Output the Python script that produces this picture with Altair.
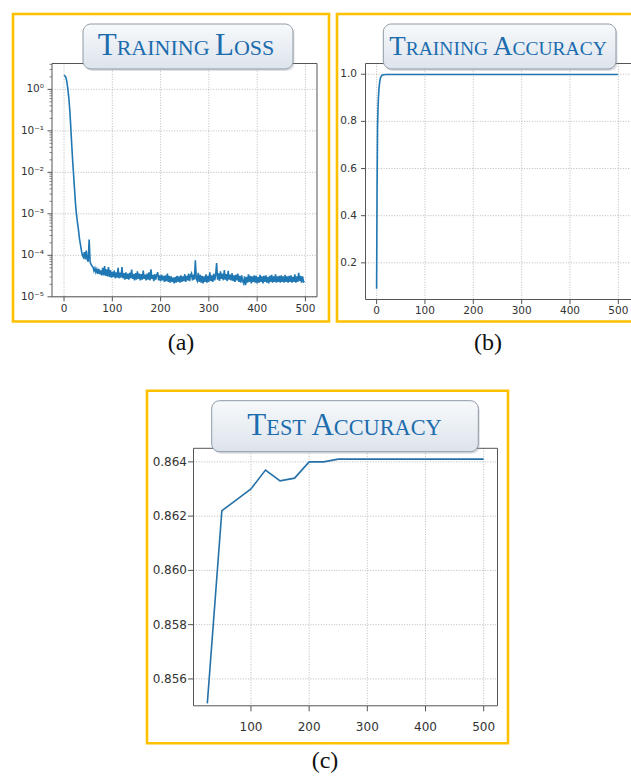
import altair as alt
import pandas as pd

# ---------------- data ----------------
loss_epochs = list(range(0, 500, 2))
# training loss, in units of 1e-5
loss_e5 = [
    220000, 210000, 190000, 150000, 100000, 60000, 30000, 12000, 4500, 1800,
    800, 350, 160, 90, 60, 40, 25, 18, 13, 10,
    9, 12, 8, 13, 8, 7, 24, 7, 6, 5.5,
    5.2, 4.2, 4.9, 3.9, 4.6, 3.6, 4.7, 3.5, 4.3, 3.3,
    5.0, 3.3, 5.5, 3.2, 4.6, 3.1, 5.2, 3.0, 4.4, 2.9,
    4.0, 3.0, 4.3, 2.8, 3.9, 2.9, 5.0, 2.8, 3.8, 2.9,
    5.2, 2.8, 3.7, 2.6, 3.9, 2.7, 3.6, 2.6, 3.8, 2.8,
    4.5, 2.7, 3.5, 2.5, 3.7, 2.6, 4.1, 2.7, 3.6, 2.5,
    3.5, 2.6, 4.3, 2.7, 3.4, 2.5, 3.6, 2.6, 3.9, 2.5,
    4.6, 2.7, 3.4, 2.4, 3.5, 2.6, 3.3, 3.9, 2.5, 3.3,
    2.4, 3.4, 2.5, 3.2, 2.3, 3.3, 2.4, 3.6, 2.3, 3.2,
    2.2, 3.1, 2.3, 2.9, 2.1, 3.0, 2.2, 3.2, 2.3, 3.1,
    2.2, 3.3, 2.3, 3.1, 2.4, 3.5, 2.3, 3.2, 2.5, 3.6,
    2.4, 3.3, 3.7, 2.5, 3.4, 2.6, 7.6, 2.7, 2.4, 3.8,
    2.3, 3.4, 2.2, 3.2, 2.1, 3.1, 2.3, 3.5, 2.2, 3.2,
    2.3, 3.9, 2.4, 3.3, 2.3, 3.6, 2.5, 3.3, 6.5, 2.6,
    3.7, 2.4, 4.1, 2.7, 3.6, 2.5, 4.4, 2.6, 3.5, 2.4,
    4.2, 2.6, 3.4, 2.5, 3.7, 2.4, 3.3, 2.3, 3.4, 2.5,
    3.6, 2.3, 3.2, 2.2, 3.3, 2.4, 2.1, 3.1, 1.9, 3.0,
    2.2, 3.5, 2.3, 3.2, 2.1, 3.1, 2.3, 3.3, 2.2, 3.2,
    2.1, 3.0, 2.2, 3.4, 2.3, 3.1, 2.1, 3.2, 2.3, 3.3,
    2.2, 3.0, 2.1, 3.2, 2.3, 3.4, 2.2, 3.1, 2.3, 3.5,
    2.2, 3.1, 2.3, 3.2, 2.2, 3.3, 2.3, 3.1, 2.2, 3.4,
    2.3, 3.1, 2.2, 3.2, 2.3, 3.3, 2.2, 3.0, 2.3, 3.5,
    2.2, 3.1, 2.3, 3.8, 2.4, 3.2, 2.2, 3.1, 2.3, 2.4,
]

acc_epochs = [0, 1, 2, 3, 4, 5, 6, 7, 8, 10, 12, 15, 20, 30, 50, 100,
              150, 200, 250, 300, 350, 400, 450, 499]
acc_values = [0.09, 0.52, 0.78, 0.86, 0.91, 0.94, 0.96, 0.975, 0.985, 0.993,
              0.997, 0.998, 0.999, 0.999, 0.999, 0.999, 0.999, 0.999, 0.999,
              0.999, 0.999, 0.999, 0.999, 0.999]

test_epochs = [25, 50, 75, 100, 125, 150, 175, 200, 225, 250,
               275, 300, 325, 350, 375, 400, 425, 450, 475, 500]
test_values = [0.8551, 0.8622, 0.8626, 0.8630, 0.8637, 0.8633, 0.8634, 0.8640,
               0.8640, 0.8641, 0.8641, 0.8641, 0.8641, 0.8641, 0.8641, 0.8641,
               0.8641, 0.8641, 0.8641, 0.8641]

x_ticks = [0, 100, 200, 300, 400, 500]
test_x_ticks = [100, 200, 300, 400, 500]
loss_ticks = [1e-5, 1e-4, 1e-3, 1e-2, 1e-1, 1]
loss_tick_labels = ["10⁻⁵", "10⁻⁴", "10⁻³", "10⁻²", "10⁻¹", "10⁰"]
loss_minor = [2e-5, 3e-5, 4e-5, 5e-5, 6e-5, 7e-5, 8e-5, 9e-5,
              2e-4, 3e-4, 4e-4, 5e-4, 6e-4, 7e-4, 8e-4, 9e-4,
              2e-3, 3e-3, 4e-3, 5e-3, 6e-3, 7e-3, 8e-3, 9e-3,
              2e-2, 3e-2, 4e-2, 5e-2, 6e-2, 7e-2, 8e-2, 9e-2,
              0.2, 0.3, 0.4, 0.5, 0.6, 0.7, 0.8, 0.9, 2, 3, 4]
acc_ticks = [0.2, 0.4, 0.6, 0.8, 1.0]
test_ticks = [0.856, 0.858, 0.860, 0.862, 0.864]
titles = ["TRAINING LOSS", "TRAINING ACCURACY", "TEST ACCURACY"]
panel_labels = ["(a)", "(b)", "(c)"]

df_loss = pd.DataFrame({"epoch": loss_epochs, "loss": [v * 1e-5 for v in loss_e5]})
df_acc = pd.DataFrame({"epoch": acc_epochs, "acc": acc_values})
df_test = pd.DataFrame({"epoch": test_epochs, "acc": test_values})

# ---------------- styling helpers ----------------
GOLD = "#FFC000"
BLUE = "#1f77b4"
SPINE = "#555555"
GRID = "#aaaaaa"
LABEL_C = "#333333"
TITLE_C = "#1c6cae"
ONE = alt.Data(values=[{"k": 0}])

TIMES_W = {'A': 722, 'B': 667, 'C': 667, 'D': 722, 'E': 611, 'F': 556, 'G': 722,
           'H': 722, 'I': 333, 'J': 389, 'K': 722, 'L': 611, 'M': 889, 'N': 722,
           'O': 722, 'P': 556, 'Q': 722, 'R': 667, 'S': 556, 'T': 611, 'U': 722,
           'V': 722, 'W': 944, 'X': 722, 'Y': 722, 'Z': 611, ' ': 250}


def vrect(x1, x2, y1, y2, **kw):
    return alt.Chart(ONE).mark_rect(**kw).encode(
        x=alt.value(x1), x2=alt.value(x2), y=alt.value(y1), y2=alt.value(y2))


def title_box(x1, x2, y1, y2):
    grad = alt.LinearGradient(
        gradient="linear",
        stops=[alt.GradientStop(color="#f7f9fb", offset=0),
               alt.GradientStop(color="#eaeff4", offset=0.5),
               alt.GradientStop(color="#dce3ea", offset=1)],
        x1=0, x2=0, y1=0, y2=1)
    shadow = vrect(x1 + 1.5, x2 + 1.5, y1 + 2, y2 + 2, cornerRadius=8, fill="#9aa4ae", opacity=0.35)
    box = vrect(x1, x2, y1, y2, cornerRadius=8, fill=grad, stroke="#8e99a5", strokeWidth=1)
    return [shadow, box]


def smallcaps(text, cx, base, big, small):
    pieces = []
    for i, word in enumerate(text.split(" ")):
        if i:
            pieces.append((" ", small))
        pieces.append((word[0], big))
        if len(word) > 1:
            pieces.append((word[1:], small))
    widths = [sum(TIMES_W[c] for c in s) * fs / 1000.0 for s, fs in pieces]
    x = cx - sum(widths) / 2.0
    layers = []
    for (s, fs), w in zip(pieces, widths):
        if s != " ":
            layers.append(alt.Chart(ONE).mark_text(
                text=s, font="Liberation Serif", fontSize=fs, align="left",
                baseline="alphabetic", color=TITLE_C).encode(
                x=alt.value(round(x, 2)), y=alt.value(base)))
        x += w
    return layers


def panel_label(text, x, y):
    return alt.Chart(ONE).mark_text(text=text, font="Liberation Serif", fontSize=24,
                                    align="center", baseline="alphabetic", color="#111").encode(
        x=alt.value(x), y=alt.value(y))


def xrules(vals, sx, y1, y2, **kw):
    return alt.Chart(pd.DataFrame({"v": vals})).mark_rule(**kw).encode(
        x=alt.X("v:Q", scale=sx, axis=None), y=alt.value(y1), y2=alt.value(y2))


def yrules(vals, sy, x1, x2, **kw):
    return alt.Chart(pd.DataFrame({"v": vals})).mark_rule(**kw).encode(
        y=alt.Y("v:Q", scale=sy, axis=None), x=alt.value(x1), x2=alt.value(x2))


def xlabels(vals, sx, y, fs):
    return alt.Chart(pd.DataFrame({"v": vals})).mark_text(
        align="center", baseline="top", font="DejaVu Sans", fontSize=fs, color=LABEL_C).encode(
        x=alt.X("v:Q", scale=sx, axis=None), y=alt.value(y), text=alt.Text("v:Q", format="d"))


def ylabels(vals, sy, x, fs, fmt=None, labels=None):
    df = pd.DataFrame({"v": vals, "lab": labels if labels else ["" for _ in vals]})
    text = alt.Text("lab:N") if labels else alt.Text("v:Q", format=fmt)
    return alt.Chart(df).mark_text(
        align="right", baseline="middle", font="DejaVu Sans", fontSize=fs, color=LABEL_C).encode(
        y=alt.Y("v:Q", scale=sy, axis=None), x=alt.value(x), text=text)


def panel(line, sx, sy, box, xt, yt, fs, xlab_y, ylab_x, tick_len, yfmt=None, ylabs=None, extra=()):
    L, R, T, B = box
    grid = dict(color=GRID, strokeWidth=0.8, strokeDash=[1, 1.6])
    tick = dict(color=SPINE, strokeWidth=1)
    layers = [
        xrules(xt, sx, T, B, **grid),
        yrules(yt, sy, L, R, **grid),
        line,
        vrect(L, R, T, B, fill="transparent", stroke=SPINE, strokeWidth=1),
        xrules(xt, sx, B, B + tick_len, **tick),
        yrules(yt, sy, L - tick_len, L, **tick),
        xlabels(xt, sx, xlab_y, fs),
        ylabels(yt, sy, ylab_x, fs, fmt=yfmt, labels=ylabs),
    ] + list(extra)
    return alt.layer(*layers)


# ---------------- panel (a) ----------------
A = (52, 317, 63.5, 296.8)
sxa = alt.Scale(domain=[-24.95, 523.95], range=[A[0], A[1]], nice=False, zero=False)
sya = alt.Scale(type="log", domain=[1e-5, 4.2], range=[A[3], A[2]], nice=False)
line_a = alt.Chart(df_loss).mark_line(color=BLUE, strokeWidth=1.6).encode(
    x=alt.X("epoch:Q", scale=sxa, axis=None), y=alt.Y("loss:Q", scale=sya, axis=None))
minor_a = yrules(loss_minor, sya, A[0] - 2.5, A[0], color=SPINE, strokeWidth=0.7)
panel_a = panel(line_a, sxa, sya, A, x_ticks, loss_ticks, 10.5, 304, 44, 4.5,
                ylabs=loss_tick_labels, extra=[minor_a])

# ---------------- panel (b) ----------------
B_ = (365.5, 636, 63.5, 299.5)
sxb = alt.Scale(domain=[-22.95, 528.2], range=[365.5, 632], nice=False, zero=False)
syb = alt.Scale(domain=[0.0445, 1.0455], range=[B_[3], B_[2]], nice=False, zero=False)
line_b = alt.Chart(df_acc).mark_line(color=BLUE, strokeWidth=1.6).encode(
    x=alt.X("epoch:Q", scale=sxb, axis=None), y=alt.Y("acc:Q", scale=syb, axis=None))
panel_b = panel(line_b, sxb, syb, B_, x_ticks, acc_ticks, 10.5, 306, 357, 4.5, yfmt=".1f")

# ---------------- panel (c) ----------------
C = (193.5, 497.5, 448.3, 705.8)
sxc = alt.Scale(domain=[1.25, 523.75], range=[C[0], C[1]], nice=False, zero=False)
syc = alt.Scale(domain=[0.85501, 0.86450], range=[C[3], C[2]], nice=False, zero=False)
line_c = alt.Chart(df_test).mark_line(color="#2571a8", strokeWidth=1.6).encode(
    x=alt.X("epoch:Q", scale=sxc, axis=None), y=alt.Y("acc:Q", scale=syc, axis=None))
panel_c = panel(line_c, sxc, syc, C, test_x_ticks, test_ticks, 12, 722, 187, 5.5, yfmt=".3f")

# ---------------- decorations ----------------
decor = [
    vrect(13, 329, 14, 321.5, fill="transparent", stroke=GOLD, strokeWidth=2.6),
    vrect(337, 645, 14, 321.5, fill="transparent", stroke=GOLD, strokeWidth=2.6),
    vrect(147, 508, 390.7, 743.3, fill="transparent", stroke=GOLD, strokeWidth=2.6),
    *title_box(83, 293, 24, 69),
    *smallcaps(titles[0], 186, 55, 31, 22),
    *title_box(383.3, 616, 24, 69),
    *smallcaps(titles[1], 498, 55, 27, 19.5),
    *title_box(211.7, 478.3, 400.7, 451.7),
    *smallcaps(titles[2], 344.5, 435, 31, 22.3),
    panel_label(panel_labels[0], 181, 350),
    panel_label(panel_labels[1], 488, 350),
    panel_label(panel_labels[2], 325, 768),
]

chart = alt.layer(panel_a, panel_b, panel_c, *decor).resolve_scale(
    x="independent", y="independent"
).properties(
    width=631, height=776, padding=0,
    autosize=alt.AutoSizeParams(type="none")
).configure(background="white").configure_view(stroke="transparent")

chart.save("out.html", embed_options={"renderer": "svg", "actions": False})
